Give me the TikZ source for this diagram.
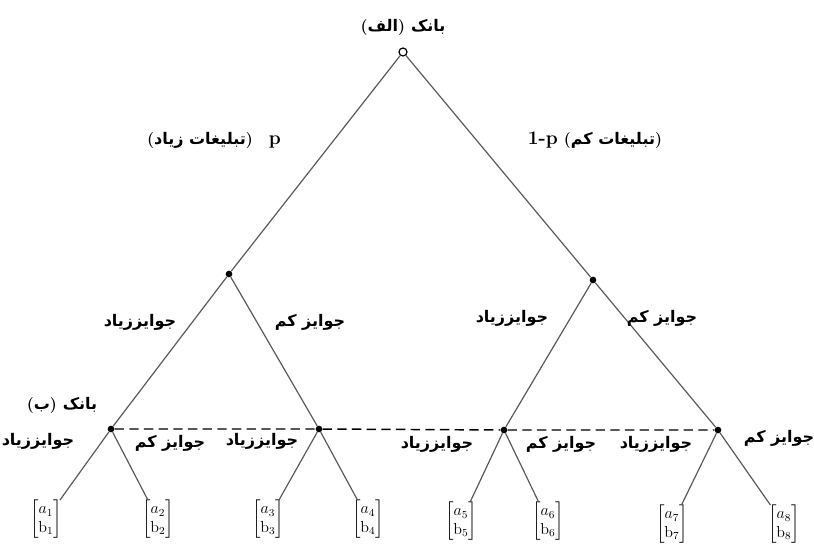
\documentclass[tikz,border=0pt]{standalone}
\usepackage{amsmath}
\usepackage{fontspec}
\usepackage{xcolor}
\usetikzlibrary{positioning}
\TeXXeTstate=1
\newfontfamily\farsifont[Script=Arabic]{DejaVu Sans}
\newcommand{\fa}[1]{{\farsifont\bfseries\beginR #1\endR}}
\definecolor{TreeGray}{HTML}{5A5A5A}

\begin{document}
\begin{tikzpicture}[x=0.75pt,y=-0.75pt,
  branch/.style={draw=TreeGray,line width=0.9pt},
  choice/.style={circle,fill=black,inner sep=0pt,minimum size=5pt},
  start/.style={circle,draw=black,line width=0.9pt,inner sep=0pt,minimum size=6pt},
  lbl/.style={inner sep=1pt,font=\large\bfseries},
  leaf/.style={anchor=north,inner sep=0pt,font=\large}]
  \useasboundingbox (0,0) rectangle (814,547);

  % decision points
  \node[start] (bankA) at (403,52) {};
  \node[choice] (hiAd) at (229,274) {};
  \node[choice] (loAd) at (593,280) {};
  \node[choice] (b1) at (111,429) {};
  \node[choice] (b2) at (319,429) {};
  \node[choice] (b3) at (504,430) {};
  \node[choice] (b4) at (718,430) {};

  % outcomes
  \node[leaf] (o1) at (46,500) {$\begin{bmatrix} a_1\\ \mathrm{b}_1 \end{bmatrix}$};
  \node[leaf] (o2) at (158,500) {$\begin{bmatrix} a_2\\ \mathrm{b}_2 \end{bmatrix}$};
  \node[leaf] (o3) at (268,500) {$\begin{bmatrix} a_3\\ \mathrm{b}_3 \end{bmatrix}$};
  \node[leaf] (o4) at (368,500) {$\begin{bmatrix} a_4\\ \mathrm{b}_4 \end{bmatrix}$};
  \node[leaf] (o5) at (461,502) {$\begin{bmatrix} a_5\\ \mathrm{b}_5 \end{bmatrix}$};
  \node[leaf] (o6) at (548,502) {$\begin{bmatrix} a_6\\ \mathrm{b}_6 \end{bmatrix}$};
  \node[leaf] (o7) at (672,505) {$\begin{bmatrix} a_7\\ \mathrm{b}_7 \end{bmatrix}$};
  \node[leaf] (o8) at (784,505) {$\begin{bmatrix} a_8\\ \mathrm{b}_8 \end{bmatrix}$};

  % branches
  \draw[branch] (bankA) -- (hiAd);
  \draw[branch] (bankA) -- (loAd);
  \draw[branch] (hiAd) -- (b1);
  \draw[branch] (hiAd) -- (b2);
  \draw[branch] (loAd) -- (b3);
  \draw[branch] (loAd) -- (b4);
  \draw[branch] (b1) -- (o1);
  \draw[branch] (b1) -- (o2);
  \draw[branch] (b2) -- (o3);
  \draw[branch] (b2) -- (o4);
  \draw[branch] (b3) -- (o5);
  \draw[branch] (b3) -- (o6);
  \draw[branch] (b4) -- (o7);
  \draw[branch] (b4) -- (o8);

  % information set of bank B
  \draw[black,line width=1.1pt,dash pattern=on 7pt off 4pt] (b1) -- (b2) -- (b3) -- (b4);

  % labels
  \node[lbl] (tA) at (403,27) {(\fa{الف}) \fa{بانک}};
  \node[lbl] (tHi) at (214,140) {(\fa{تبلیغات زیاد})\quad {\Large p}};
  \node[lbl] (tLo) at (595,140) {{\Large 1-p} (\fa{تبلیغات کم})};
  \node[lbl] (tB) at (62,405) {(\fa{ب}) \fa{بانک}};
  \node[lbl] (g1) at (140,322) {\fa{جوایززیاد}};
  \node[lbl] (g2) at (310,322) {\fa{جوایز کم}};
  \node[lbl] (g3) at (512,318) {\fa{جوایززیاد}};
  \node[lbl] (g4) at (662,318) {\fa{جوایز کم}};
  \node[lbl] (h1) at (38,441) {\fa{جوایززیاد}};
  \node[lbl] (h2) at (170,443) {\fa{جوایز کم}};
  \node[lbl] (h3) at (262,441) {\fa{جوایززیاد}};
  \node[lbl] (h4) at (437,444) {\fa{جوایززیاد}};
  \node[lbl] (h5) at (561,444) {\fa{جوایز کم}};
  \node[lbl] (h6) at (656,444) {\fa{جوایززیاد}};
  \node[lbl] (h7) at (779,438) {\fa{جوایز کم}};
\end{tikzpicture}
\end{document}
